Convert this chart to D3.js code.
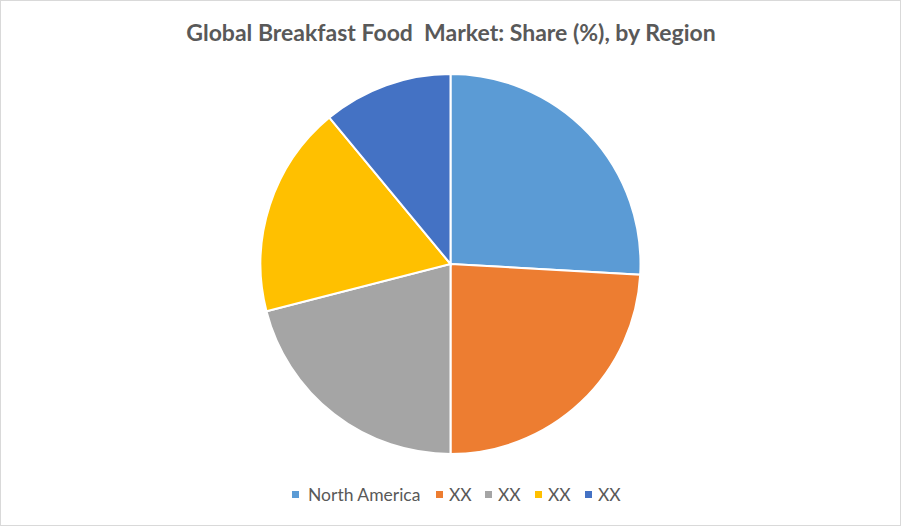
<!DOCTYPE html>
<html>
<head>
<meta charset="utf-8">
<script src="https://cdn.jsdelivr.net/npm/d3@7"></script>
<style>
  html, body { margin: 0; padding: 0; background: #fff; }
  svg { display: block; }
</style>
</head>
<body>
<svg id="chart" width="902" height="527"></svg>
<script>
const title = "Global Breakfast Food  Market: Share (%), by Region";
const categories = ["North America", "XX", "XX", "XX", "XX"];
const shares = [25.9, 24.1, 21.0, 18.0, 11.0];
const colors = ["#5B9BD5", "#ED7D31", "#A5A5A5", "#FFC000", "#4472C4"];

const W = 902, H = 527;
const svg = d3.select("#chart");

svg.append("rect")
  .attr("x", 0.5).attr("y", 0.5)
  .attr("width", W - 2).attr("height", H - 2)
  .attr("fill", "#fff").attr("stroke", "#d9d9d9").attr("stroke-width", 1);

svg.append("text")
  .attr("x", 451).attr("y", 41)
  .attr("text-anchor", "middle")
  .attr("font-family", "Lato, 'Open Sans', sans-serif")
  .attr("font-weight", "bold")
  .attr("font-size", 23)
  .attr("fill", "#595959")
  .style("white-space", "pre")
  .text(title);

const cx = 450.5, cy = 264, r = 190;
const data = categories.map((c, i) => ({ cat: c, value: shares[i], color: colors[i] }));
const pie = d3.pie().value(d => d.value).sort(null);
const arc = d3.arc().innerRadius(0).outerRadius(r);

svg.append("g")
  .attr("transform", `translate(${cx},${cy})`)
  .selectAll("path")
  .data(pie(data))
  .join("path")
  .attr("d", arc)
  .attr("fill", d => d.data.color)
  .attr("stroke", "#fff")
  .attr("stroke-width", 2);

// legend
const legend = svg.append("g").attr("font-family", "Lato, 'Open Sans', sans-serif")
  .attr("font-size", 17.5).attr("fill", "#595959");
const xs = [292, 436, 485, 535, 585];
const items = legend.selectAll("g").data(data).join("g")
  .attr("transform", (d, i) => `translate(${xs[i]},0)`);
items.append("rect").attr("x", 0).attr("y", 491).attr("width", 7).attr("height", 7)
  .attr("fill", d => d.color);
items.append("text").attr("x", (d, i) => i === 0 ? 16 : 13).attr("y", 501).text(d => d.cat);
</script>
</body>
</html>
